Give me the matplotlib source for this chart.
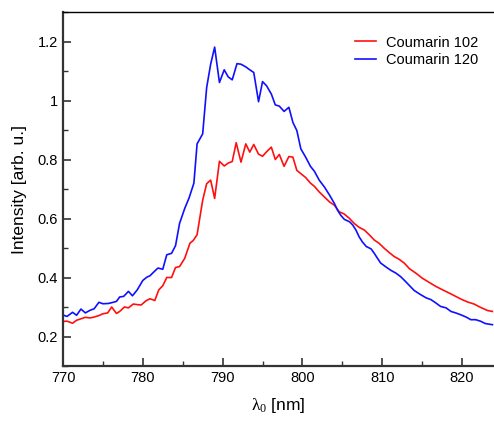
import matplotlib
matplotlib.use("Agg")
import matplotlib.pyplot as plt
from matplotlib.ticker import MultipleLocator

plt.rcParams['font.family'] = ['Liberation Sans', 'DejaVu Sans']
plt.rcParams['mathtext.fontset'] = 'custom'
plt.rcParams['mathtext.rm'] = 'Liberation Serif'
plt.rcParams['mathtext.it'] = 'Liberation Serif'

# Coumarin 102 (red)
wl_102 = [770.0, 770.5, 771.2, 771.7, 772.25, 772.8, 773.4, 773.9, 774.5, 775.0,
          775.6, 776.1, 776.7, 777.1, 777.7, 778.2, 778.8, 779.3, 779.8, 780.4,
          780.9, 781.5, 782.0, 782.5, 783.0, 783.6, 784.1, 784.6, 785.25, 785.9,
          786.3, 786.8, 787.5, 788.0, 788.5, 789.0, 789.6, 790.2, 790.7, 791.2,
          791.7, 792.3, 792.9, 793.4, 793.9, 794.5, 795.0, 795.5, 796.1, 796.6,
          797.1, 797.7, 798.3, 798.8, 799.3, 799.8, 800.4, 801.0, 801.5, 802.1,
          802.75, 803.4, 804.0, 804.6, 805.25, 805.9, 806.5, 807.1, 807.75, 808.4,
          809.0, 809.6, 810.25, 810.9, 811.5, 812.1, 812.75, 813.4, 814.2, 815.0,
          815.9, 816.7, 817.5, 818.4, 819.2, 820.0, 820.7, 821.5, 822.3, 823.2, 823.8]
int_102 = [0.251, 0.252, 0.245, 0.255, 0.260, 0.265, 0.263, 0.266, 0.271, 0.277,
           0.280, 0.300, 0.278, 0.285, 0.300, 0.297, 0.310, 0.308, 0.307, 0.321,
           0.328, 0.322, 0.358, 0.372, 0.400, 0.400, 0.434, 0.437, 0.465, 0.516,
           0.525, 0.545, 0.662, 0.718, 0.730, 0.668, 0.794, 0.778, 0.788, 0.793,
           0.857, 0.791, 0.853, 0.825, 0.851, 0.818, 0.811, 0.826, 0.842, 0.800,
           0.817, 0.777, 0.810, 0.808, 0.763, 0.752, 0.739, 0.720, 0.709, 0.690,
           0.673, 0.656, 0.645, 0.623, 0.615, 0.600, 0.583, 0.570, 0.561, 0.544,
           0.527, 0.516, 0.499, 0.484, 0.471, 0.462, 0.449, 0.430, 0.415, 0.398,
           0.383, 0.370, 0.359, 0.347, 0.336, 0.325, 0.317, 0.310, 0.299, 0.288, 0.285]

# Coumarin 120 (blue)
wl_120 = [770.0, 770.5, 771.2, 771.7, 772.25, 772.8, 773.4, 773.9, 774.5, 775.0,
          775.7, 776.3, 776.7, 777.1, 777.6, 778.2, 778.7, 779.3, 780.0, 780.5,
          780.9, 781.5, 781.9, 782.5, 783.0, 783.6, 784.1, 784.6, 785.25, 785.8,
          786.4, 786.8, 787.5, 788.0, 788.5, 789.0, 789.6, 790.2, 790.7, 791.2,
          791.8, 792.3, 792.9, 793.4, 793.9, 794.5, 795.0, 795.5, 796.1, 796.6,
          797.1, 797.7, 798.3, 798.8, 799.3, 799.8, 800.4, 801.0, 801.5, 802.1,
          802.75, 803.4, 804.0, 804.4, 804.8, 805.25, 805.9, 806.3, 806.7, 807.1,
          807.5, 808.0, 808.6, 809.0, 809.4, 809.8, 810.5, 811.1, 811.7, 812.3,
          812.9, 813.5, 814.0, 814.8, 815.5, 816.1, 816.7, 817.3, 818.0, 818.6,
          819.2, 819.8, 820.5, 821.1, 821.7, 822.3, 822.9, 823.8]
int_120 = [0.273, 0.268, 0.282, 0.272, 0.293, 0.280, 0.289, 0.294, 0.316, 0.311,
           0.312, 0.316, 0.319, 0.334, 0.336, 0.353, 0.338, 0.358, 0.390, 0.401,
           0.406, 0.422, 0.432, 0.428, 0.477, 0.482, 0.508, 0.583, 0.634, 0.670,
           0.720, 0.853, 0.887, 1.044, 1.123, 1.181, 1.061, 1.104, 1.080, 1.070,
           1.125, 1.123, 1.114, 1.104, 1.095, 0.996, 1.064, 1.050, 1.022, 0.985,
           0.981, 0.963, 0.977, 0.926, 0.898, 0.836, 0.808, 0.777, 0.760, 0.730,
           0.707, 0.679, 0.651, 0.628, 0.611, 0.597, 0.589, 0.578, 0.561, 0.538,
           0.521, 0.505, 0.497, 0.482, 0.465, 0.449, 0.435, 0.424, 0.415, 0.403,
           0.387, 0.370, 0.356, 0.342, 0.331, 0.325, 0.314, 0.302, 0.297, 0.285,
           0.280, 0.274, 0.266, 0.257, 0.257, 0.252, 0.244, 0.240]

fig = plt.figure(figsize=(4.94, 4.21), dpi=100)
ax = fig.add_axes([63 / 494, 1 - 366 / 421, 1 - 63 / 494, (366 - 12) / 421])

ax.plot(wl_102, int_102, color='#ff1010', lw=1.2, label='Coumarin 102')
ax.plot(wl_120, int_120, color='#1010ff', lw=1.2, label='Coumarin 120')

ax.set_xlim(770, 824)
ax.set_ylim(0.1, 1.3)
ax.xaxis.set_major_locator(MultipleLocator(10))
ax.xaxis.set_minor_locator(MultipleLocator(5))
ax.yaxis.set_major_locator(MultipleLocator(0.2))
ax.yaxis.set_minor_locator(MultipleLocator(0.1))
ax.set_yticks([0.2, 0.4, 0.6, 0.8, 1.0, 1.2])
ax.set_yticklabels(['0.2', '0.4', '0.6', '0.8', '1', '1.2'])

ax.tick_params(which='both', direction='in', labelsize=10.5, colors='#333333',
               labelcolor='black', top=False, right=False)
ax.tick_params(which='major', length=6, width=1.2)
ax.tick_params(which='minor', length=3.5, width=1.0)

for side in ['left', 'bottom']:
    ax.spines[side].set_linewidth(1.6)
    ax.spines[side].set_color('#333333')
ax.spines['top'].set_linewidth(1.0)
ax.spines['right'].set_visible(False)

ax.set_xlabel(r'$\lambda_0$ [nm]', fontsize=12.5, labelpad=8)
ax.set_ylabel('Intensity [arb. u.]', fontsize=12.5, labelpad=8)

ax.legend(loc='upper right', frameon=False, fontsize=10.5, handlelength=1.4,
          handletextpad=0.7, borderaxespad=0.0, labelspacing=0.25,
          bbox_to_anchor=(0.977, 0.95))

fig.savefig('out.png', dpi=100)
